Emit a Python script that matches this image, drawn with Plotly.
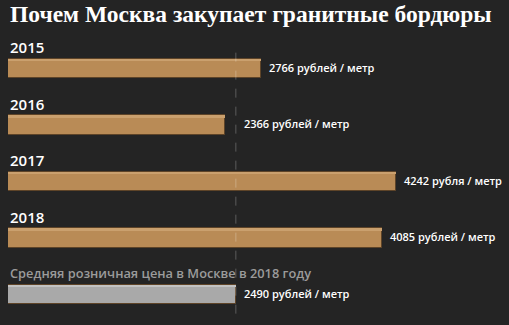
import plotly.graph_objects as go

# Categories and prices (roubles per metre)
labels = ["2015", "2016", "2017", "2018", "Средняя розничная цена в Москве в 2018 году"]
prices = [2766, 2366, 4242, 4085, 2490]
units = ["рублей / метр", "рублей / метр", "рубля / метр", "рублей / метр", "рублей / метр"]
average = prices[-1]

BG = "#242424"
TAN = "#b98b56"
TAN_HI = "#caa06e"
GREY = "#a9a9a9"
GREY_HI = "#c2c2c2"

idx = list(range(len(labels)))
fills = [TAN] * 4 + [GREY]
highlights = [TAN_HI] * 4 + [GREY_HI]
bar_w = 0.34

fig = go.Figure()

# main bars
fig.add_trace(go.Bar(
    x=prices, y=idx, orientation="h", width=bar_w,
    marker=dict(color=fills, line=dict(color="#5e4428", width=1)),
    hoverinfo="skip",
))
# lighter top edge of each bar
fig.add_trace(go.Bar(
    x=prices, y=idx, orientation="h", width=0.04, offset=-bar_w / 2,
    marker=dict(color=highlights, line=dict(width=0)),
    hoverinfo="skip",
))

# dashed reference line at the average retail price
fig.add_shape(type="line", xref="x", yref="paper",
              x0=average, x1=average, y0=0.035, y1=0.86,
              line=dict(color="rgba(255,255,255,0.25)", width=1, dash="dash"),
              layer="above")

# category labels above the bars
for i, lab in enumerate(labels):
    grey = i == len(labels) - 1
    fig.add_annotation(
        x=0, y=i, xref="x", yref="y", text=lab, showarrow=False,
        xanchor="left", yanchor="middle", yshift=21, xshift=0,
        font=dict(family="Open Sans", size=12.8 if grey else 15,
                  color="#9b9b9b" if grey else "#ffffff", weight=600),
    )

# value labels to the right of each bar (never left of the dashed line)
for i, (v, u) in enumerate(zip(prices, units)):
    fig.add_annotation(
        x=max(v, average), y=i, xref="x", yref="y",
        text=f"{v} {u}", showarrow=False,
        xanchor="left", yanchor="middle", xshift=6, yshift=1,
        font=dict(family="Open Sans", size=11, color="#ffffff", weight=600),
    )

fig.add_annotation(
    x=0, y=1, xref="paper", yref="paper", text="<b>Почем Москва закупает гранитные бордюры</b>",
    showarrow=False, xanchor="left", yanchor="top", xshift=0, yshift=1,
    font=dict(family="Liberation Serif", size=23.5, color="#ffffff"),
)

fig.update_layout(
    width=509, height=325,
    margin=dict(l=8, r=0, t=0, b=0),
    paper_bgcolor=BG, plot_bgcolor=BG,
    barmode="overlay", bargap=0,
    showlegend=False,
    xaxis=dict(range=[0, 5475], visible=False, fixedrange=True),
    yaxis=dict(range=[4.54, -1.212], visible=False, fixedrange=True),
)

fig.write_html("out.html", config={"displayModeBar": False})
